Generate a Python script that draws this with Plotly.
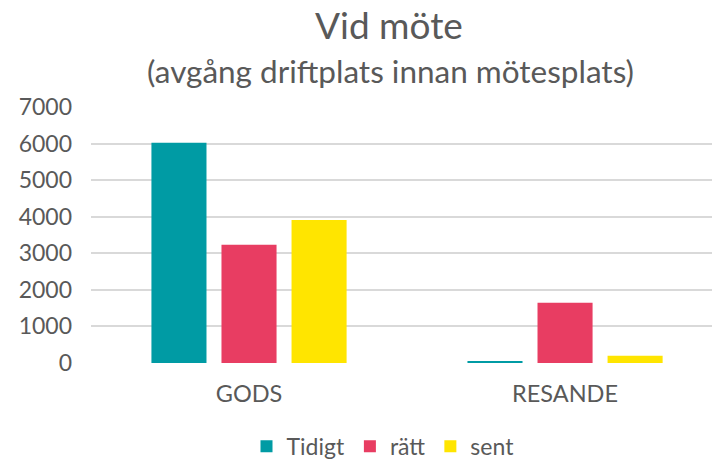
import plotly.graph_objects as go

categories = ["GODS", "RESANDE"]
series_names = ["Tidigt", "rätt", "sent"]
tidigt = [6020, 55]
ratt = [3230, 1650]
sent = [3910, 200]
y_ticks = [0, 1000, 2000, 3000, 4000, 5000, 6000, 7000]

colors = ["#009BA4", "#E83D62", "#FFE500"]
FONT = "Lato"
GREY = "#595959"

fig = go.Figure()
for name, vals, col in zip(series_names, [tidigt, ratt, sent], colors):
    fig.add_trace(go.Bar(name=name, x=categories, y=vals, marker=dict(color=col, line=dict(width=0))))

top, bottom = 107, 363.5
h = bottom - top
left, width = 91, 621

fig.update_layout(
    width=712, height=460,
    margin=dict(l=left, r=0, t=top, b=460 - bottom, autoexpand=False),
    paper_bgcolor="white", plot_bgcolor="white",
    barmode="group", bargap=0.335, bargroupgap=0.214,
    font=dict(family=FONT, color=GREY, size=23),
    showlegend=True,
    legend=dict(orientation="h", x=(383 - left) / width, xanchor="center", y=(bottom - 447) / h,
                yanchor="middle", font=dict(size=23, color=GREY), itemwidth=30, traceorder="normal"),
    xaxis=dict(range=[-0.5, 1.465], showgrid=False, showline=False, zeroline=False,
               tickfont=dict(size=23.5, color=GREY), ticklabelstandoff=14, ticks=""),
    yaxis=dict(range=[0, 7000], tickvals=y_ticks, showgrid=True, gridcolor="#D9D9D9", gridwidth=1.5,
               zeroline=False, showline=False, tickfont=dict(size=23, color=GREY),
               ticklabelstandoff=18, ticks=""),
    annotations=[
        dict(text="Vid möte", x=(389 - left) / width, xref="paper", y=(bottom - 24) / h, yref="paper",
             xanchor="center", yanchor="middle", showarrow=False, font=dict(size=37, color=GREY, family=FONT)),
        dict(text="(avgång driftplats innan mötesplats)", x=(390 - left) / width, xref="paper",
             y=(bottom - 71) / h, yref="paper", xanchor="center", yanchor="middle", showarrow=False,
             font=dict(size=31.5, color=GREY, family=FONT)),
    ],
)

fig.write_html("out.html", config={"displayModeBar": False},
               post_script="document.body.style.margin='0';document.body.style.overflow='hidden';")
